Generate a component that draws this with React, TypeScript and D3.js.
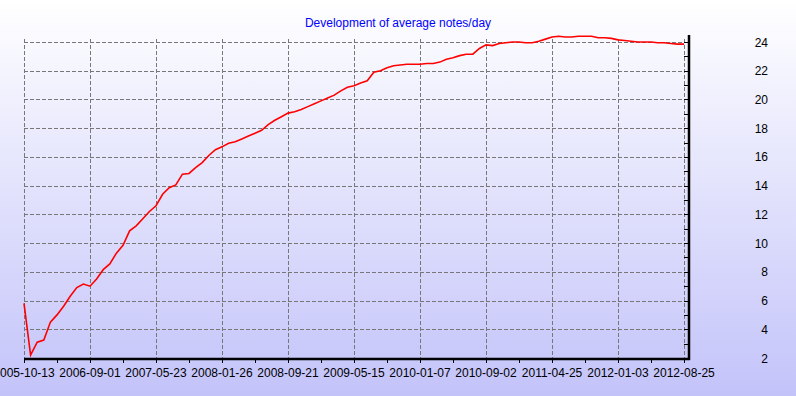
import React, { useEffect, useRef } from 'react';
import * as d3 from 'd3';

const title = 'Development of average notes/day';

// x labels, one every 10 samples
const dateLabels = [
  '2005-10-13', '2006-09-01', '2007-05-23', '2008-01-26', '2008-09-21', '2009-05-15',
  '2010-01-07', '2010-09-02', '2011-04-25', '2012-01-03', '2012-08-25',
];

// average notes per day, one value per sample
const avgNotes = [
  5.8, 2.2, 3.1, 3.25, 4.5, 5.0, 5.6, 6.3, 6.9, 7.15,
  7.0, 7.5, 8.15, 8.55, 9.3, 9.85, 10.85, 11.2, 11.7, 12.2,
  12.6, 13.4, 13.85, 14.05, 14.8, 14.85, 15.25, 15.6, 16.1, 16.5,
  16.7, 16.95, 17.05, 17.25, 17.45, 17.65, 17.85, 18.25, 18.55, 18.8,
  19.05, 19.15, 19.3, 19.5, 19.7, 19.9, 20.1, 20.3, 20.6, 20.85,
  20.95, 21.15, 21.3, 21.9, 22.0, 22.2, 22.35, 22.4, 22.45, 22.45,
  22.45, 22.5, 22.5, 22.6, 22.8, 22.9, 23.05, 23.15, 23.15, 23.55,
  23.8, 23.75, 23.9, 23.95, 24.0, 24.0, 23.95, 23.95, 24.05, 24.2,
  24.35, 24.4, 24.35, 24.35, 24.4, 24.4, 24.4, 24.3, 24.3, 24.25,
  24.15, 24.1, 24.05, 24.0, 24.0, 24.0, 23.95, 23.95, 23.9, 23.85,
  23.85,
];

const yTicks = [2, 4, 6, 8, 10, 12, 14, 16, 18, 20, 22, 24];
const labelStep = 10;

const App: React.FC = () => {
  const svgRef = useRef<SVGSVGElement>(null);

  useEffect(() => {
    const width = 796;
    const height = 396;
    const left = 24;
    const right = 688;
    const top = 36;
    const bottom = 358;
    const font = 'Arial, "Liberation Sans", sans-serif';

    const svg = d3.select(svgRef.current).attr('width', width).attr('height', height);
    svg.selectAll('*').remove();

    const defs = svg.append('defs');
    const grad = defs.append('linearGradient').attr('id', 'bg').attr('x1', 0).attr('y1', 0).attr('x2', 0).attr('y2', 1);
    grad.append('stop').attr('offset', '0%').attr('stop-color', '#ffffff');
    grad.append('stop').attr('offset', '100%').attr('stop-color', '#c3c3fa');
    svg.append('rect').attr('width', width).attr('height', height).attr('fill', 'url(#bg)');

    const x = d3.scaleLinear().domain([0, 100.6]).range([left, right]);
    const y = d3.scaleLinear().domain([2, 24]).range([bottom, 42]);

    // grid
    const grid = svg.append('g').attr('stroke', '#777').attr('stroke-width', 1).attr('stroke-dasharray', '4,2');
    grid.selectAll('line.h')
      .data(yTicks)
      .enter()
      .append('line')
      .attr('x1', left)
      .attr('x2', right)
      .attr('y1', d => Math.round(y(d)) + 0.5)
      .attr('y2', d => Math.round(y(d)) + 0.5);
    grid.selectAll('line.v')
      .data(dateLabels)
      .enter()
      .append('line')
      .attr('x1', (_, i) => Math.round(x(i * labelStep)) + 0.5)
      .attr('x2', (_, i) => Math.round(x(i * labelStep)) + 0.5)
      .attr('y1', top + 3)
      .attr('y2', bottom);

    // data line
    const line = d3.line<number>()
      .x((_, i) => x(i))
      .y(d => y(d));
    svg.append('path')
      .datum(avgNotes)
      .attr('d', line)
      .attr('fill', 'none')
      .attr('stroke', '#ff0000')
      .attr('stroke-width', 1.6);

    // bottom axis
    const xAxis = svg.append('g');
    const minorX = d3.range(0, 101, labelStep / 2);
    xAxis.selectAll('line')
      .data(minorX)
      .enter()
      .append('line')
      .attr('x1', d => Math.round(x(d)) + 0.5)
      .attr('x2', d => Math.round(x(d)) + 0.5)
      .attr('y1', bottom)
      .attr('y2', bottom + 5)
      .attr('stroke', '#000');
    xAxis.append('line')
      .attr('x1', left)
      .attr('x2', right + 2)
      .attr('y1', bottom + 1)
      .attr('y2', bottom + 1)
      .attr('stroke', '#000')
      .attr('stroke-width', 2.5);
    xAxis.selectAll('text')
      .data(dateLabels)
      .enter()
      .append('text')
      .attr('x', (_, i) => x(i * labelStep))
      .attr('y', bottom + 19)
      .attr('text-anchor', 'middle')
      .attr('font-family', font)
      .attr('font-size', 12)
      .attr('fill', '#000')
      .text(d => d);

    // right axis
    const yAxis = svg.append('g');
    const minorY = d3.range(2, 24.5, 1);
    yAxis.selectAll('line')
      .data(minorY)
      .enter()
      .append('line')
      .attr('x1', right - 4)
      .attr('x2', right)
      .attr('y1', d => Math.round(y(d)) + 0.5)
      .attr('y2', d => Math.round(y(d)) + 0.5)
      .attr('stroke', '#000');
    yAxis.append('line')
      .attr('x1', right + 1)
      .attr('x2', right + 1)
      .attr('y1', top - 1)
      .attr('y2', bottom + 2)
      .attr('stroke', '#000')
      .attr('stroke-width', 2.5);
    yAxis.selectAll('text')
      .data(yTicks)
      .enter()
      .append('text')
      .attr('x', 768)
      .attr('y', d => y(d) + 4.5)
      .attr('text-anchor', 'end')
      .attr('font-family', font)
      .attr('font-size', 12)
      .attr('fill', '#000')
      .text(d => String(d));

    svg.append('text')
      .attr('x', 398)
      .attr('y', 27)
      .attr('text-anchor', 'middle')
      .attr('font-family', font)
      .attr('font-size', 12)
      .attr('fill', '#0000ff')
      .text(title);
  }, []);

  return <svg ref={svgRef} style={{ position: 'fixed', left: 0, top: 0, display: 'block' }}></svg>;
};

export default App;
